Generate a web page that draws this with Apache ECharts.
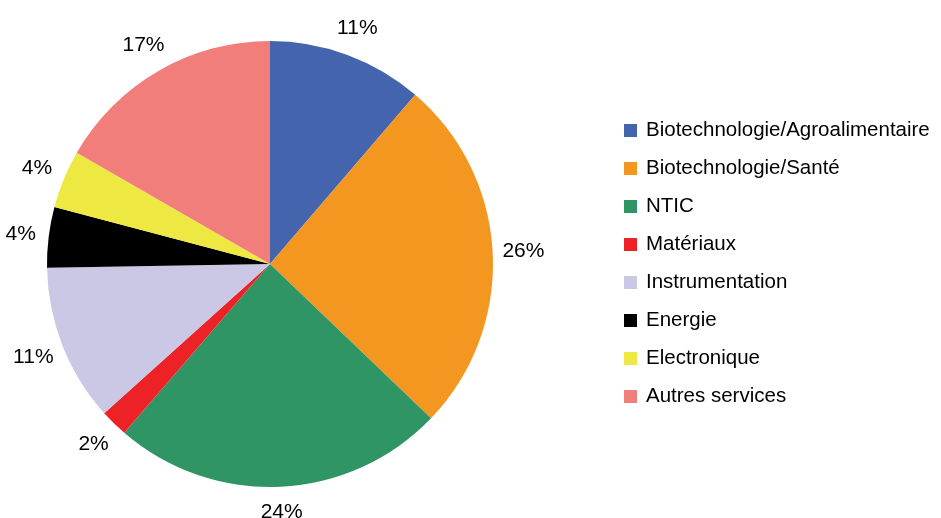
<!DOCTYPE html>
<html>
<head>
<meta charset="utf-8">
<style>
  html, body { margin: 0; padding: 0; background: #ffffff; }
  #chart { width: 941px; height: 518px; }
</style>
<script src="https://cdn.jsdelivr.net/npm/echarts@6/dist/echarts.min.js"></script>
</head>
<body>
<div id="chart"></div>
<script>
// Sectors, clockwise from 12 o'clock
const categories = [
  'Biotechnologie/Agroalimentaire',
  'Biotechnologie/Santé',
  'NTIC',
  'Matériaux',
  'Instrumentation',
  'Energie',
  'Electronique',
  'Autres services'
];
// Share of each sector (%)
const shares = [11.3, 25.9, 24.2, 2.0, 11.4, 4.4, 4.2, 16.7];
const colors = ['#4464ae', '#f39720', '#309565', '#ec2227', '#cac8e4', '#000000', '#eee843', '#f27e7c'];

const FONT = '"Liberation Sans", Arial, sans-serif';
const PIE_CENTER = [270, 264];
const PIE_RADIUS = 223;

const chart = echarts.init(document.getElementById('chart'), null, { renderer: 'canvas' });

const sliceData = categories.map((name, i) => ({
  name: name,
  value: shares[i],
  itemStyle: { color: colors[i] }
}));

// Transparent outer ring carrying the percentage labels just outside the pie
const labelRingData = categories.map((name, i) => ({
  name: name,
  value: shares[i],
  itemStyle: { color: 'rgba(0,0,0,0)' }
}));

// Push each label out along its bisector so that wide labels on the sides
// sit a bit further out than the ones above or below the pie.
function placeOutside(params) {
  const r = params.labelRect;
  const lx = r.x + r.width / 2;
  const ly = r.y + r.height / 2;
  const dx = lx - PIE_CENTER[0];
  const dy = ly - PIE_CENTER[1];
  const len = Math.sqrt(dx * dx + dy * dy) || 1;
  const ux = dx / len, uy = dy / len;
  const support = Math.abs(ux) * r.width / 2 + Math.abs(uy) * r.height / 2;
  const dist = PIE_RADIUS + 20 + 0.5 * support;
  return { x: PIE_CENTER[0] + ux * dist, y: PIE_CENTER[1] + uy * dist };
}

chart.setOption({
  animation: false,
  backgroundColor: '#ffffff',
  legend: {
    orient: 'vertical',
    left: 624,
    top: 120,
    padding: 0,
    itemWidth: 13,
    itemHeight: 13,
    itemGap: 17,
    icon: 'rect',
    selectedMode: false,
    data: categories.map((name, i) => ({ name: name, itemStyle: { color: colors[i] } })),
    textStyle: {
      fontFamily: FONT,
      fontSize: 20.5,
      color: '#000000',
      lineHeight: 20,
      padding: [0, 0, 0, 4]
    }
  },
  series: [
    {
      name: 'Secteurs',
      type: 'pie',
      center: PIE_CENTER,
      radius: [0, PIE_RADIUS],
      startAngle: 90,
      clockwise: true,
      label: { show: false },
      labelLine: { show: false },
      emphasis: { disabled: true },
      data: sliceData
    },
    {
      name: 'Étiquettes',
      type: 'pie',
      center: PIE_CENTER,
      radius: [PIE_RADIUS, PIE_RADIUS + 56],
      startAngle: 90,
      clockwise: true,
      silent: true,
      avoidLabelOverlap: false,
      emphasis: { disabled: true },
      labelLine: { show: false },
      label: {
        show: true,
        position: 'inside',
        fontFamily: FONT,
        fontSize: 21,
        color: '#000000',
        formatter: (p) => Math.round(p.percent) + '%'
      },
      labelLayout: placeOutside,
      data: labelRingData
    }
  ]
});
</script>
</body>
</html>
